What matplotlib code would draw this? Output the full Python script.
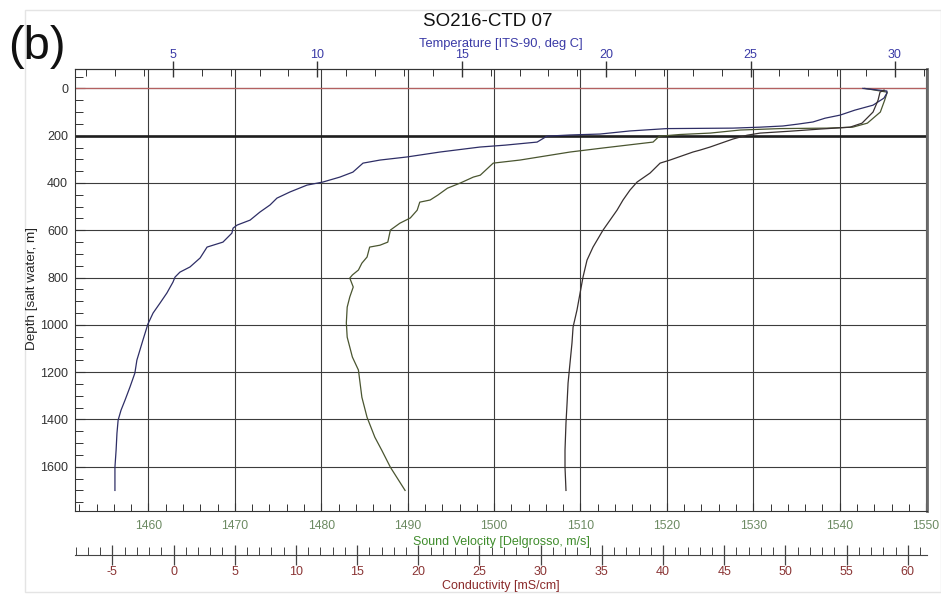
import matplotlib
matplotlib.use("Agg")
import matplotlib.pyplot as plt
from matplotlib.ticker import MultipleLocator, FixedLocator
from matplotlib.patches import Rectangle

plt.rcParams['font.family'] = ['Liberation Sans', 'DejaVu Sans']
plt.rcParams['axes.unicode_minus'] = False

# ---------------- data ----------------
depth_temp = [0, 11, 20, 41, 71, 92, 113, 126, 142, 151,
              159, 164, 168, 169, 170, 180, 193, 197, 202, 227,
              240, 248, 269, 290, 303, 316, 354, 375, 396, 409,
              438, 464, 493, 523, 557, 578, 591, 612, 650, 671,
              717, 755, 777, 798, 819, 865, 908, 950, 997, 1064,
              1149, 1204, 1263, 1318, 1361, 1403, 1458, 1530, 1602, 1700]
temperature = [28.89, 29.72, 29.72, 29.62, 29.24, 28.61, 28.10, 27.58, 27.16, 26.64,
               26.12, 25.32, 24.39, 23.25, 22.10, 20.82, 19.79, 18.75, 17.95, 17.61,
               16.50, 15.63, 14.25, 13.10, 12.17, 11.58, 11.23, 10.78, 10.19, 9.64,
               9.05, 8.60, 8.36, 8.01, 7.67, 7.22, 7.08, 7.04, 6.73, 6.18,
               5.94, 5.59, 5.24, 5.07, 5.00, 4.79, 4.55, 4.31, 4.13, 3.96,
               3.75, 3.68, 3.51, 3.34, 3.20, 3.10, 3.06, 3.03, 2.99, 2.99]

depth_sv = [0, 16, 50, 100, 147, 164, 168, 170, 176, 189,
            195, 202, 206, 227, 252, 269, 303, 316, 367, 375,
            400, 422, 451, 472, 481, 515, 548, 570, 599, 650,
            663, 671, 713, 739, 768, 789, 802, 840, 882, 925,
            992, 1052, 1136, 1191, 1306, 1391, 1475, 1530, 1602, 1700]
sound_velocity = [1542.9, 1545.5, 1545.2, 1544.7, 1543.2, 1541.5, 1538.5, 1533.1, 1528.5, 1525.0,
                  1521.5, 1519.2, 1519.0, 1518.4, 1512.6, 1508.8, 1503.0, 1499.9, 1498.4, 1497.6,
                  1496.1, 1494.6, 1493.5, 1492.6, 1491.4, 1491.1, 1490.3, 1489.1, 1488.0, 1487.7,
                  1486.8, 1485.6, 1485.3, 1484.7, 1484.3, 1483.6, 1483.3, 1483.7, 1483.3, 1483.0,
                  1482.9, 1483.0, 1483.6, 1484.3, 1484.7, 1485.3, 1486.2, 1487.0, 1488.0, 1489.7]

depth_cond = [7, 16, 50, 100, 147, 164, 172, 181, 189, 198,
              206, 214, 248, 261, 269, 303, 316, 358, 396, 430,
              472, 515, 557, 599, 671, 726, 798, 866, 937, 1009,
              1077, 1161, 1246, 1330, 1415, 1530, 1602, 1700]
conductivity = [58.06, 57.73, 57.57, 57.16, 56.26, 55.28, 52.83, 50.38, 47.93, 46.87,
                46.29, 45.72, 43.84, 43.02, 42.45, 40.57, 39.76, 38.94, 37.88, 37.30,
                36.73, 36.24, 35.67, 35.10, 34.28, 33.79, 33.46, 33.22, 32.97, 32.65,
                32.56, 32.40, 32.24, 32.16, 32.07, 31.99, 31.99, 32.07]

sv_ticks = [1460, 1470, 1480, 1490, 1500, 1510, 1520, 1530, 1540, 1550]
temp_ticks = [5, 10, 15, 20, 25, 30]
cond_ticks = [-5, 0, 5, 10, 15, 20, 25, 30, 35, 40, 45, 50, 55, 60]
depth_ticks = [0, 200, 400, 600, 800, 1000, 1200, 1400, 1600]

title = "SO216-CTD 07"
panel = "(b)"
temp_label = "Temperature [ITS-90, deg C]"
sv_label = "Sound Velocity [Delgrosso, m/s]"
cond_label = "Conductivity [mS/cm]"
depth_label = "Depth [salt water, m]"

# ---------------- figure ----------------
W, H = 941, 594
fig = plt.figure(figsize=(W / 100, H / 100), dpi=100)
fig.patch.set_facecolor('white')


def fx(px):
    return px / W


def fy(py):
    return 1 - py / H


fig.patches.append(Rectangle((fx(25), fy(592)), fx(941) - fx(25), fy(10) - fy(592),
                             transform=fig.transFigure, fill=False,
                             edgecolor='#e4e4e4', lw=1.0))

L, R, T, B = 75, 927, 69, 511
ax = fig.add_axes([fx(L), fy(B), fx(R) - fx(L), fy(T) - fy(B)])
ax.set_xlim(1451.5, 1550.1)
ax.set_ylim(1787, -82)

spine_col = '#333333'
for s in ax.spines.values():
    s.set_color(spine_col)
    s.set_linewidth(0.8)
ax.spines['right'].set_linewidth(2.0)
ax.spines['right'].set_color('#6a6a6a')

ax.xaxis.set_major_locator(FixedLocator(sv_ticks))
ax.xaxis.set_minor_locator(MultipleLocator(2))
ax.yaxis.set_major_locator(FixedLocator(depth_ticks))
ax.yaxis.set_minor_locator(MultipleLocator(50))
ax.grid(True, which='major', color='#3c3c3c', lw=0.8)
ax.set_axisbelow(True)

ax.tick_params(axis='x', which='major', direction='in', length=6, width=0.8,
               pad=6.5, labelsize=8.7, labelcolor='#6c8a62', color=spine_col)
ax.tick_params(axis='x', which='minor', direction='in', length=5, width=0.7,
               color=spine_col)
ax.tick_params(axis='y', which='major', direction='in', length=7, width=0.8,
               pad=5, labelsize=9, labelcolor='#333333', color=spine_col)
ax.tick_params(axis='y', which='minor', direction='in', length=6, width=0.7,
               color=spine_col)

# special reference lines (surface and 200 m)
ax.axhline(depth_ticks[0], color='#b46060', lw=0.9, zorder=1.5)
ax.axhline(depth_ticks[1], color='#1e1e1e', lw=1.9, zorder=1.5)

# sound velocity curve
ax.plot(sound_velocity, depth_sv, color='#4a5530', lw=0.9, zorder=3)

# temperature axis (top)
ax2 = ax.twiny()
ax2.set_xlim(1.607, 31.11)
ax2.xaxis.set_major_locator(FixedLocator(temp_ticks))
ax2.xaxis.set_minor_locator(MultipleLocator(1))
for k in ['left', 'right', 'bottom']:
    ax2.spines[k].set_visible(False)
ax2.spines['top'].set_color(spine_col)
ax2.spines['top'].set_linewidth(0.8)
ax2.tick_params(axis='x', which='major', direction='inout', length=12, width=1.0,
                pad=0, labelsize=9, labelcolor='#3a3aa6', color=spine_col)
ax2.tick_params(axis='x', which='minor', direction='in', length=5, width=0.7,
                color=spine_col)
ax2.plot(temperature, depth_temp, color='#2e2e66', lw=0.9, zorder=3)

# conductivity axis (second bottom axis)
ax3 = ax.twiny()
ax3.set_xlim(-8.05, 61.57)
ax3.xaxis.set_ticks_position('bottom')
ax3.xaxis.set_label_position('bottom')
ax3.spines['bottom'].set_position(('outward', (555 - B) * 0.72))
for k in ['left', 'right', 'top']:
    ax3.spines[k].set_visible(False)
ax3.spines['bottom'].set_color('#444444')
ax3.spines['bottom'].set_linewidth(0.8)
ax3.xaxis.set_major_locator(FixedLocator(cond_ticks))
ax3.xaxis.set_minor_locator(MultipleLocator(1))
ax3.tick_params(axis='x', which='major', direction='inout', length=15, width=0.9,
                pad=0.5, labelsize=9, labelcolor='#8a3434', color='#444444')
ax3.tick_params(axis='x', which='minor', direction='in', length=6, width=0.7,
                color='#444444')
ax3.plot(conductivity, depth_cond, color='#383030', lw=0.9, zorder=3)
ax3.set_ylim(1787, -82)

# texts
fig.text(fx(488), fy(22), title, ha='center', va='center', fontsize=13.5, color='#111111')
fig.text(fx(37), fy(47), panel, ha='center', va='center', fontsize=34, color='#111111')
fig.text(fx(501), fy(44), temp_label, ha='center', va='center', fontsize=9.3, color='#3a3aa6')
fig.text(fx(501), fy(542), sv_label, ha='center', va='center', fontsize=9.0, color='#3f8c2c')
fig.text(fx(501), fy(586), cond_label, ha='center', va='center', fontsize=9.0, color='#8a2a2a')
fig.text(fx(32), fy(288), depth_label, ha='center', va='center', rotation=90,
         fontsize=9.7, color='#222222')

fig.savefig('out.png', dpi=100, facecolor='white')
